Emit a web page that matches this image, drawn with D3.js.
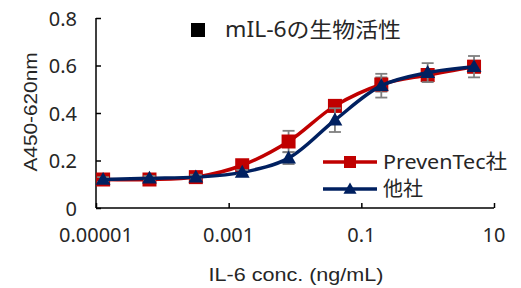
<!DOCTYPE html>
<html>
<head>
<meta charset="utf-8">
<script src="https://cdn.jsdelivr.net/npm/d3@7"></script>
<style>
  body { margin: 0; background: #fff; }
  text { font-family: "Noto Sans", "Noto Sans CJK JP", sans-serif; fill: #262626; }
  .arial { font-family: "Liberation Sans", Arial, sans-serif; }
</style>
</head>
<body>
<div id="chart"></div>
<script>
// dilution series, ng/mL
var conc = [0.0000128, 0.000064, 0.00032, 0.0016, 0.008, 0.04, 0.2, 1, 5];
var preventec = [0.12, 0.12, 0.13, 0.18, 0.28, 0.43, 0.52, 0.56, 0.595];
var preventecErr = [0.01, 0.01, 0.01, 0.015, 0.045, 0.025, 0.03, 0.02, 0.025];
var other = [0.12, 0.125, 0.13, 0.15, 0.21, 0.37, 0.515, 0.57, 0.595];
var otherErr = [0.01, 0.01, 0.01, 0.01, 0.025, 0.05, 0.05, 0.04, 0.045];
var xTicks = [0.00001, 0.001, 0.1, 10];
var xTickLabels = ["0.00001", "0.001", "0.1", "10"];
var yTicks = [0, 0.2, 0.4, 0.6, 0.8];
var seriesNames = ["PrevenTec社", "他社"];
var title = "mIL-6の生物活性";

var width = 521, height = 288;
var svg = d3.select('#chart').append('svg')
    .attr('width', width)
    .attr('height', height);

var x = d3.scaleLog().domain([0.00001, 10]).range([96, 494]);
var y = d3.scaleLinear().domain([0, 0.8]).range([208, 18]);

// axes, ticks inside
var xAxis = d3.axisTop(x).tickValues(xTicks).tickSize(5).tickFormat('');
var gx = svg.append('g').attr('transform', 'translate(0,208)').call(xAxis);
gx.select('.domain').attr('d', 'M96,0H494');
gx.selectAll('line, path').attr('stroke', '#000').attr('stroke-width', 1.5);

var yAxis = d3.axisRight(y).tickValues(yTicks).tickSize(5).tickFormat('');
var gy = svg.append('g').attr('transform', 'translate(96,0)').call(yAxis);
gy.select('.domain').attr('d', 'M0,18V208');
gy.selectAll('line, path').attr('stroke', '#000').attr('stroke-width', 1.5);

// tick labels
svg.selectAll('.xlab').data(xTicks).enter().append('text')
    .attr('x', function (d) { return x(d) })
    .attr('y', 242)
    .attr('text-anchor', 'middle')
    .style('font-size', '20px')
    .text(function (d, i) { return xTickLabels[i] });

svg.selectAll('.ylab').data(yTicks).enter().append('text')
    .attr('x', 77)
    .attr('y', function (d) { return y(d) + 7.5 })
    .attr('text-anchor', 'end')
    .style('font-size', '20px')
    .text(function (d) { return d === 0 ? '0' : d.toFixed(1) });

// axis titles
svg.append('text')
    .attr('class', 'arial')
    .attr('transform', 'translate(37,112) rotate(-90)')
    .attr('text-anchor', 'middle')
    .attr('textLength', 119).attr('lengthAdjust', 'spacingAndGlyphs')
    .style('font-size', '19px')
    .text('A450-620nm');

svg.append('text')
    .attr('class', 'arial')
    .attr('x', 296).attr('y', 281)
    .attr('text-anchor', 'middle')
    .attr('textLength', 175).attr('lengthAdjust', 'spacingAndGlyphs')
    .style('font-size', '18px')
    .text('IL-6 conc. (ng/mL)');

// title
svg.append('rect').attr('x', 191).attr('y', 23).attr('width', 14).attr('height', 14).attr('fill', '#000');
svg.append('text')
    .attr('x', 225).attr('y', 37)
    .attr('textLength', 176).attr('lengthAdjust', 'spacingAndGlyphs')
    .style('font-size', '21px')
    .text(title);

var series = [
    {name: seriesNames[0], values: preventec, err: preventecErr, color: '#C00000', shape: d3.symbolSquare},
    {name: seriesNames[1], values: other, err: otherErr, color: '#002060', shape: d3.symbolTriangle}
];

var line = d3.line()
    .x(function (d) { return x(d[0]) })
    .y(function (d) { return y(d[1]) })
    .curve(d3.curveCatmullRom.alpha(0.5));

function markerSize(s, legend) {
    if (s.shape === d3.symbolSquare) return legend ? 144 : 196;
    return legend ? 75 : 95;
}

series.forEach(function (s) {
    var pts = conc.map(function (c, i) { return [c, s.values[i], s.err[i]] });

    svg.append('path')
        .datum(pts)
        .attr('d', line)
        .attr('fill', 'none')
        .attr('stroke', s.color)
        .attr('stroke-width', 3.5);

    var eb = svg.append('g').selectAll('g').data(pts).enter().append('g')
        .attr('stroke', '#7f7f7f').attr('stroke-width', 1.8);
    eb.append('line')
        .attr('x1', function (d) { return x(d[0]) }).attr('x2', function (d) { return x(d[0]) })
        .attr('y1', function (d) { return y(d[1] - d[2]) }).attr('y2', function (d) { return y(d[1] + d[2]) });
    eb.append('line')
        .attr('x1', function (d) { return x(d[0]) - 6 }).attr('x2', function (d) { return x(d[0]) + 6 })
        .attr('y1', function (d) { return y(d[1] + d[2]) }).attr('y2', function (d) { return y(d[1] + d[2]) });
    eb.append('line')
        .attr('x1', function (d) { return x(d[0]) - 6 }).attr('x2', function (d) { return x(d[0]) + 6 })
        .attr('y1', function (d) { return y(d[1] - d[2]) }).attr('y2', function (d) { return y(d[1] - d[2]) });

    svg.append('g').selectAll('path').data(pts).enter().append('path')
        .attr('d', d3.symbol().type(s.shape).size(markerSize(s, false)))
        .attr('transform', function (d) {
            var dy = s.shape === d3.symbolTriangle ? 1 : 0;
            return 'translate(' + x(d[0]) + ',' + (y(d[1]) + dy) + ')'
        })
        .attr('fill', s.color);
});

// legend
series.forEach(function (s, i) {
    var ly = 162 + i * 27;
    svg.append('line')
        .attr('x1', 323).attr('x2', 377).attr('y1', ly).attr('y2', ly)
        .attr('stroke', s.color).attr('stroke-width', 3.5);
    svg.append('path')
        .attr('d', d3.symbol().type(s.shape).size(markerSize(s, true)))
        .attr('transform', 'translate(350,' + (ly + (i ? 1 : 0)) + ')')
        .attr('fill', s.color);
    var t = svg.append('text')
        .attr('x', 383).attr('y', ly + 7)
        .style('font-size', '20px')
        .text(s.name);
    if (i === 0) t.attr('textLength', 124).attr('lengthAdjust', 'spacingAndGlyphs');
});
</script>
</body>
</html>
